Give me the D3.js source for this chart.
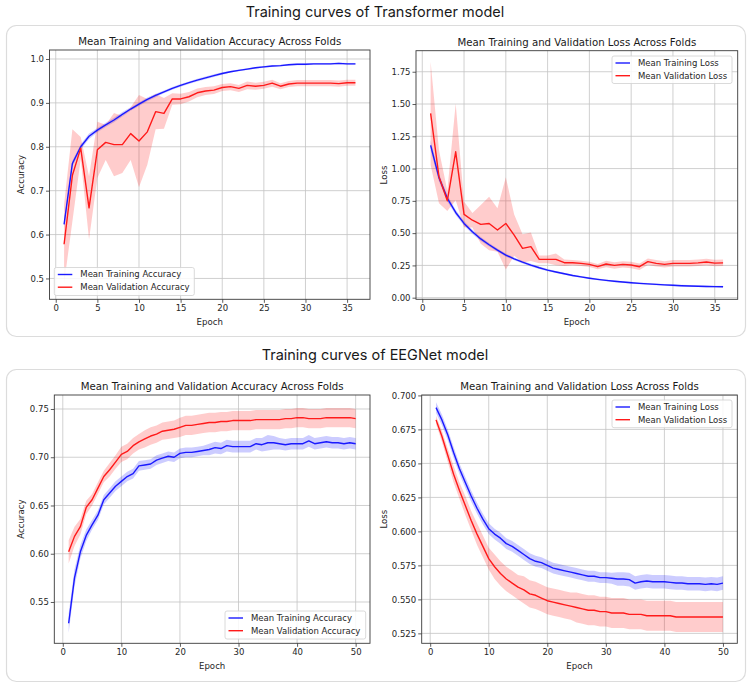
<!DOCTYPE html>
<html><head><meta charset="utf-8">
<script src="https://cdn.jsdelivr.net/npm/d3@7"></script>
<style>body{margin:0;background:#fff;}svg{display:block;}</style>
</head><body>
<svg id="chart" width="750" height="687"></svg>
<script>
// ---------- DATA ----------
const sectionTitles = ["Training curves of Transformer model", "Training curves of EEGNet model"];
const accTitle = "Mean Training and Validation Accuracy Across Folds";
const lossTitle = "Mean Training and Validation Loss Across Folds";

const tfTrainAcc = [0.623,0.762,0.800,0.824,0.838,0.850,0.861,0.874,0.886,0.897,0.908,0.917,0.925,0.933,0.940,0.946,0.952,0.957,0.962,0.967,0.971,0.974,0.977,0.980,0.982,0.984,0.985,0.987,0.988,0.988,0.989,0.989,0.989,0.990,0.989,0.989];
const tfTrainAccStd = [0.008,0.007,0.006,0.006,0.005,0.005,0.005,0.005,0.004,0.004,0.004,0.004,0.003,0.003,0.003,0.003,0.003,0.003,0.003,0.003,0.002,0.002,0.002,0.002,0.002,0.002,0.002,0.002,0.002,0.002,0.002,0.002,0.002,0.002,0.002,0.002];
const tfValAcc = [0.578,0.735,0.797,0.661,0.793,0.810,0.805,0.805,0.830,0.813,0.834,0.880,0.876,0.909,0.909,0.914,0.923,0.927,0.929,0.935,0.937,0.933,0.940,0.938,0.940,0.945,0.938,0.943,0.945,0.945,0.945,0.945,0.945,0.944,0.946,0.946];
const tfValAccStd = [0.09,0.105,0.025,0.072,0.064,0.04,0.072,0.065,0.06,0.105,0.075,0.04,0.035,0.013,0.012,0.011,0.01,0.009,0.009,0.008,0.008,0.008,0.009,0.008,0.008,0.008,0.007,0.007,0.007,0.007,0.007,0.007,0.007,0.007,0.007,0.007];

const tfTrainLoss = [1.18,0.93,0.77,0.66,0.575,0.51,0.455,0.41,0.368,0.33,0.30,0.275,0.252,0.232,0.214,0.199,0.185,0.172,0.161,0.151,0.142,0.134,0.127,0.121,0.116,0.111,0.107,0.103,0.099,0.096,0.093,0.091,0.089,0.087,0.086,0.085];
const tfTrainLossStd = [0.04,0.03,0.025,0.02,0.018,0.016,0.015,0.014,0.013,0.012,0.011,0.01,0.01,0.009,0.009,0.008,0.008,0.008,0.007,0.007,0.007,0.007,0.007,0.007,0.007,0.007,0.007,0.007,0.007,0.007,0.007,0.007,0.007,0.007,0.007,0.007];
const tfValLoss = [1.427,0.937,0.751,1.13,0.645,0.60,0.568,0.575,0.524,0.575,0.485,0.382,0.395,0.297,0.297,0.297,0.271,0.271,0.266,0.258,0.24,0.261,0.25,0.258,0.253,0.24,0.279,0.266,0.258,0.266,0.266,0.266,0.27,0.276,0.268,0.27];
const tfValLossStd = [0.4,0.205,0.08,0.375,0.1,0.056,0.15,0.207,0.168,0.357,0.16,0.11,0.11,0.03,0.03,0.045,0.025,0.02,0.02,0.02,0.02,0.025,0.025,0.025,0.025,0.025,0.025,0.025,0.025,0.025,0.025,0.025,0.025,0.025,0.025,0.025];

const egTrainAcc = [0.528,0.575,0.602,0.619,0.630,0.640,0.656,0.663,0.670,0.675,0.680,0.683,0.691,0.692,0.693,0.697,0.699,0.701,0.700,0.704,0.705,0.705,0.706,0.707,0.708,0.710,0.709,0.712,0.711,0.711,0.711,0.711,0.714,0.713,0.715,0.715,0.714,0.713,0.714,0.714,0.714,0.717,0.714,0.715,0.716,0.715,0.715,0.714,0.715,0.714];
const egTrainAccStd = [0.01,0.009,0.007,0.006,0.005,0.005,0.005,0.005,0.005,0.005,0.005,0.005,0.005,0.005,0.005,0.005,0.005,0.005,0.005,0.005,0.005,0.005,0.005,0.005,0.006,0.006,0.006,0.006,0.006,0.006,0.006,0.006,0.006,0.007,0.008,0.007,0.006,0.006,0.006,0.006,0.006,0.006,0.006,0.006,0.006,0.006,0.006,0.006,0.006,0.006];
const egValAcc = [0.602,0.618,0.628,0.648,0.656,0.668,0.680,0.687,0.695,0.703,0.706,0.712,0.716,0.719,0.722,0.724,0.727,0.728,0.729,0.731,0.733,0.733,0.734,0.735,0.736,0.736,0.737,0.737,0.738,0.738,0.738,0.738,0.739,0.739,0.739,0.739,0.739,0.740,0.740,0.741,0.741,0.740,0.740,0.740,0.741,0.741,0.741,0.741,0.741,0.740];
const egValAccStd = [0.012,0.01,0.008,0.007,0.006,0.006,0.006,0.007,0.007,0.008,0.008,0.008,0.008,0.009,0.009,0.009,0.009,0.009,0.009,0.01,0.01,0.01,0.01,0.01,0.01,0.01,0.01,0.01,0.01,0.01,0.01,0.01,0.01,0.01,0.01,0.01,0.01,0.01,0.01,0.01,0.01,0.01,0.01,0.01,0.01,0.01,0.01,0.01,0.01,0.01];

const egTrainLoss = [0.691,0.682,0.671,0.658,0.646,0.636,0.626,0.617,0.609,0.602,0.598,0.595,0.591,0.589,0.586,0.583,0.580,0.578,0.577,0.575,0.573,0.572,0.571,0.570,0.569,0.568,0.567,0.567,0.566,0.566,0.5655,0.565,0.565,0.5645,0.562,0.563,0.5635,0.563,0.563,0.563,0.5625,0.562,0.562,0.5615,0.5615,0.5615,0.561,0.5615,0.561,0.562];
const egTrainLossStd = [0.004,0.004,0.004,0.004,0.004,0.004,0.004,0.004,0.004,0.004,0.004,0.004,0.004,0.004,0.004,0.004,0.004,0.004,0.004,0.004,0.004,0.004,0.004,0.004,0.004,0.004,0.004,0.004,0.004,0.004,0.004,0.005,0.005,0.005,0.005,0.005,0.005,0.005,0.005,0.005,0.005,0.005,0.005,0.005,0.005,0.005,0.005,0.005,0.005,0.005];
const egValLoss = [0.682,0.670,0.656,0.642,0.630,0.619,0.608,0.598,0.589,0.580,0.574,0.569,0.565,0.562,0.559,0.557,0.554,0.553,0.551,0.549,0.548,0.547,0.546,0.545,0.544,0.543,0.542,0.542,0.541,0.541,0.540,0.540,0.540,0.539,0.539,0.539,0.538,0.538,0.538,0.538,0.538,0.537,0.537,0.537,0.537,0.537,0.537,0.537,0.537,0.537];
const egValLossStd = [0.003,0.004,0.005,0.006,0.006,0.007,0.007,0.008,0.008,0.008,0.009,0.009,0.009,0.009,0.009,0.01,0.01,0.01,0.01,0.01,0.01,0.01,0.01,0.01,0.011,0.011,0.011,0.011,0.011,0.011,0.011,0.011,0.011,0.011,0.011,0.011,0.011,0.011,0.011,0.011,0.011,0.011,0.011,0.011,0.011,0.011,0.011,0.011,0.011,0.011];

const tfXTicks = [0,5,10,15,20,25,30,35];
const egXTicks = [0,10,20,30,40,50];
const tfAccYTicks = [0.5,0.6,0.7,0.8,0.9,1.0];
const tfLossYTicks = [0.00,0.25,0.50,0.75,1.00,1.25,1.50,1.75];
const egAccYTicks = [0.55,0.60,0.65,0.70,0.75];
const egLossYTicks = [0.525,0.550,0.575,0.600,0.625,0.650,0.675,0.700];

const accLegend = ["Mean Training Accuracy", "Mean Validation Accuracy"];
const lossLegend = ["Mean Training Loss", "Mean Validation Loss"];

// ---------- DRAW ----------
const svg = d3.select("#chart");
const BLUE = "#1a1aff", RED = "#ff1a1a";
const FONT = "DejaVu Sans, sans-serif";

// section panels
svg.append("rect").attr("x",6.5).attr("y",25.5).attr("width",739).attr("height",311).attr("rx",10)
  .attr("fill","#fff").attr("stroke","#dcdcdc").attr("stroke-width",1.2);
svg.append("rect").attr("x",6.5).attr("y",369.5).attr("width",739).attr("height",312).attr("rx",10)
  .attr("fill","#fff").attr("stroke","#dcdcdc").attr("stroke-width",1.2);
svg.append("text").attr("x",375).attr("y",16.5).attr("text-anchor","middle")
  .attr("font-family","Inter, sans-serif").attr("font-size",14.5).attr("fill","#1a1a1a").text(sectionTitles[0]);
svg.append("text").attr("x",375).attr("y",359.5).attr("text-anchor","middle")
  .attr("font-family","Inter, sans-serif").attr("font-size",14.5).attr("fill","#1a1a1a").text(sectionTitles[1]);

function drawChart(cfg) {
  const g = svg.append("g");
  const x = d3.scaleLinear().domain(cfg.xDomain).range([cfg.left, cfg.right]);
  const y = d3.scaleLinear().domain(cfg.yDomain).range([cfg.bottom, cfg.top]);
  const clipId = "clip" + cfg.id;
  svg.append("clipPath").attr("id", clipId).append("rect")
    .attr("x", cfg.left).attr("y", cfg.top).attr("width", cfg.right - cfg.left).attr("height", cfg.bottom - cfg.top);

  // grid
  const grid = g.append("g").attr("stroke","#c4c4c4").attr("stroke-width",0.8);
  cfg.xTicks.forEach(t => grid.append("line").attr("x1",x(t)).attr("x2",x(t)).attr("y1",cfg.top).attr("y2",cfg.bottom));
  cfg.yTicks.forEach(t => grid.append("line").attr("y1",y(t)).attr("y2",y(t)).attr("x1",cfg.left).attr("x2",cfg.right));

  const plot = g.append("g").attr("clip-path", `url(#${clipId})`);
  const series = [
    {mean: cfg.train, std: cfg.trainStd, color: BLUE, fill: "rgba(0,0,255,0.2)"},
    {mean: cfg.val, std: cfg.valStd, color: RED, fill: "rgba(255,0,0,0.2)"}
  ];
  series.forEach(s => {
    const pts = s.mean.map((v, i) => ({e: i + 1, v, sd: s.std[i]}));
    plot.append("path").datum(pts).attr("fill", s.fill)
      .attr("d", d3.area().x(d => x(d.e)).y0(d => y(d.v - d.sd)).y1(d => y(d.v + d.sd)));
  });
  series.forEach(s => {
    const pts = s.mean.map((v, i) => ({e: i + 1, v}));
    plot.append("path").datum(pts).attr("fill","none").attr("stroke", s.color).attr("stroke-width",1.4)
      .attr("stroke-linejoin","round")
      .attr("d", d3.line().x(d => x(d.e)).y(d => y(d.v)));
  });

  // axes
  const xAxis = d3.axisBottom(x).tickValues(cfg.xTicks).tickSize(3.5).tickPadding(2).tickFormat(d3.format("d"));
  const yAxis = d3.axisLeft(y).tickValues(cfg.yTicks).tickSize(3.5).tickPadding(2).tickFormat(d3.format(cfg.yFmt));
  const xa = g.append("g").attr("transform", `translate(0,${cfg.bottom})`).call(xAxis);
  const ya = g.append("g").attr("transform", `translate(${cfg.left},0)`).call(yAxis);
  [xa, ya].forEach(a => {
    a.select(".domain").remove();
    a.selectAll("line").attr("stroke","#333").attr("stroke-width",0.8);
    a.selectAll("text").attr("font-family",FONT).attr("font-size",8.5).attr("fill","#262626");
  });
  g.append("rect").attr("x",cfg.left).attr("y",cfg.top).attr("width",cfg.right-cfg.left).attr("height",cfg.bottom-cfg.top)
    .attr("fill","none").attr("stroke","#3a3a3a").attr("stroke-width",0.9);

  // title and labels
  g.append("text").attr("x",(cfg.left+cfg.right)/2).attr("y",cfg.top-5).attr("text-anchor","middle")
    .attr("font-family",FONT).attr("font-size",10.2).attr("fill","#1a1a1a").text(cfg.title);
  g.append("text").attr("x",(cfg.left+cfg.right)/2).attr("y",cfg.bottom+25.5).attr("text-anchor","middle")
    .attr("font-family",FONT).attr("font-size",8.6).attr("fill","#262626").text("Epoch");
  g.append("text").attr("transform",`translate(${cfg.yLabelX},${(cfg.top+cfg.bottom)/2}) rotate(-90)`)
    .attr("text-anchor","middle").attr("dy","0.35em")
    .attr("font-family",FONT).attr("font-size",8.6).attr("fill","#262626").text(cfg.yLabel);

  // legend
  const L = cfg.legend;
  const lg = g.append("g");
  lg.append("rect").attr("x",L.x).attr("y",L.y).attr("width",L.w).attr("height",L.h).attr("rx",2)
    .attr("fill","rgba(255,255,255,0.85)").attr("stroke","#d0d0d0").attr("stroke-width",0.8);
  cfg.legendLabels.forEach((lab, i) => {
    const yy = L.y + 7 + i * 12.7;
    lg.append("line").attr("x1",L.x+3.5).attr("x2",L.x+18).attr("y1",yy).attr("y2",yy)
      .attr("stroke", i === 0 ? BLUE : RED).attr("stroke-width",1.4);
    lg.append("text").attr("x",L.x+26).attr("y",yy).attr("dy","0.35em")
      .attr("font-family",FONT).attr("font-size",8.5).attr("fill","#262626").text(lab);
  });
}

drawChart({id:1, left:49.5, right:370, top:50, bottom:299.3, xDomain:[-0.75,37.75], yDomain:[0.4525,1.0205],
  xTicks:tfXTicks, yTicks:tfAccYTicks, yFmt:".1f", train:tfTrainAcc, trainStd:tfTrainAccStd, val:tfValAcc, valStd:tfValAccStd,
  title:accTitle, yLabel:"Accuracy", yLabelX:21, legendLabels:accLegend, legend:{x:54.3,y:267.5,w:140,h:28}});
drawChart({id:2, left:416, right:737.7, top:50.7, bottom:299.3, xDomain:[-0.75,37.75], yDomain:[-0.0125,1.913],
  xTicks:tfXTicks, yTicks:tfLossYTicks, yFmt:".2f", train:tfTrainLoss, trainStd:tfTrainLossStd, val:tfValLoss, valStd:tfValLossStd,
  title:lossTitle, yLabel:"Loss", yLabelX:383.5, legendLabels:lossLegend, legend:{x:612,y:56,w:120,h:27.5}});
drawChart({id:3, left:54.3, right:370, top:395, bottom:643.3, xDomain:[-1.45,52.45], yDomain:[0.5072,0.7645],
  xTicks:egXTicks, yTicks:egAccYTicks, yFmt:".2f", train:egTrainAcc, trainStd:egTrainAccStd, val:egValAcc, valStd:egValAccStd,
  title:accTitle, yLabel:"Accuracy", yLabelX:21, legendLabels:accLegend, legend:{x:225,y:611,w:140.7,h:28}});
drawChart({id:4, left:421.7, right:737.3, top:395, bottom:643.3, xDomain:[-1.45,52.45], yDomain:[0.5177,0.7003],
  xTicks:egXTicks, yTicks:egLossYTicks, yFmt:".3f", train:egTrainLoss, trainStd:egTrainLossStd, val:egValLoss, valStd:egValLossStd,
  title:lossTitle, yLabel:"Loss", yLabelX:383.5, legendLabels:lossLegend, legend:{x:612,y:400,w:120,h:27.7}});
</script>
</body></html>
